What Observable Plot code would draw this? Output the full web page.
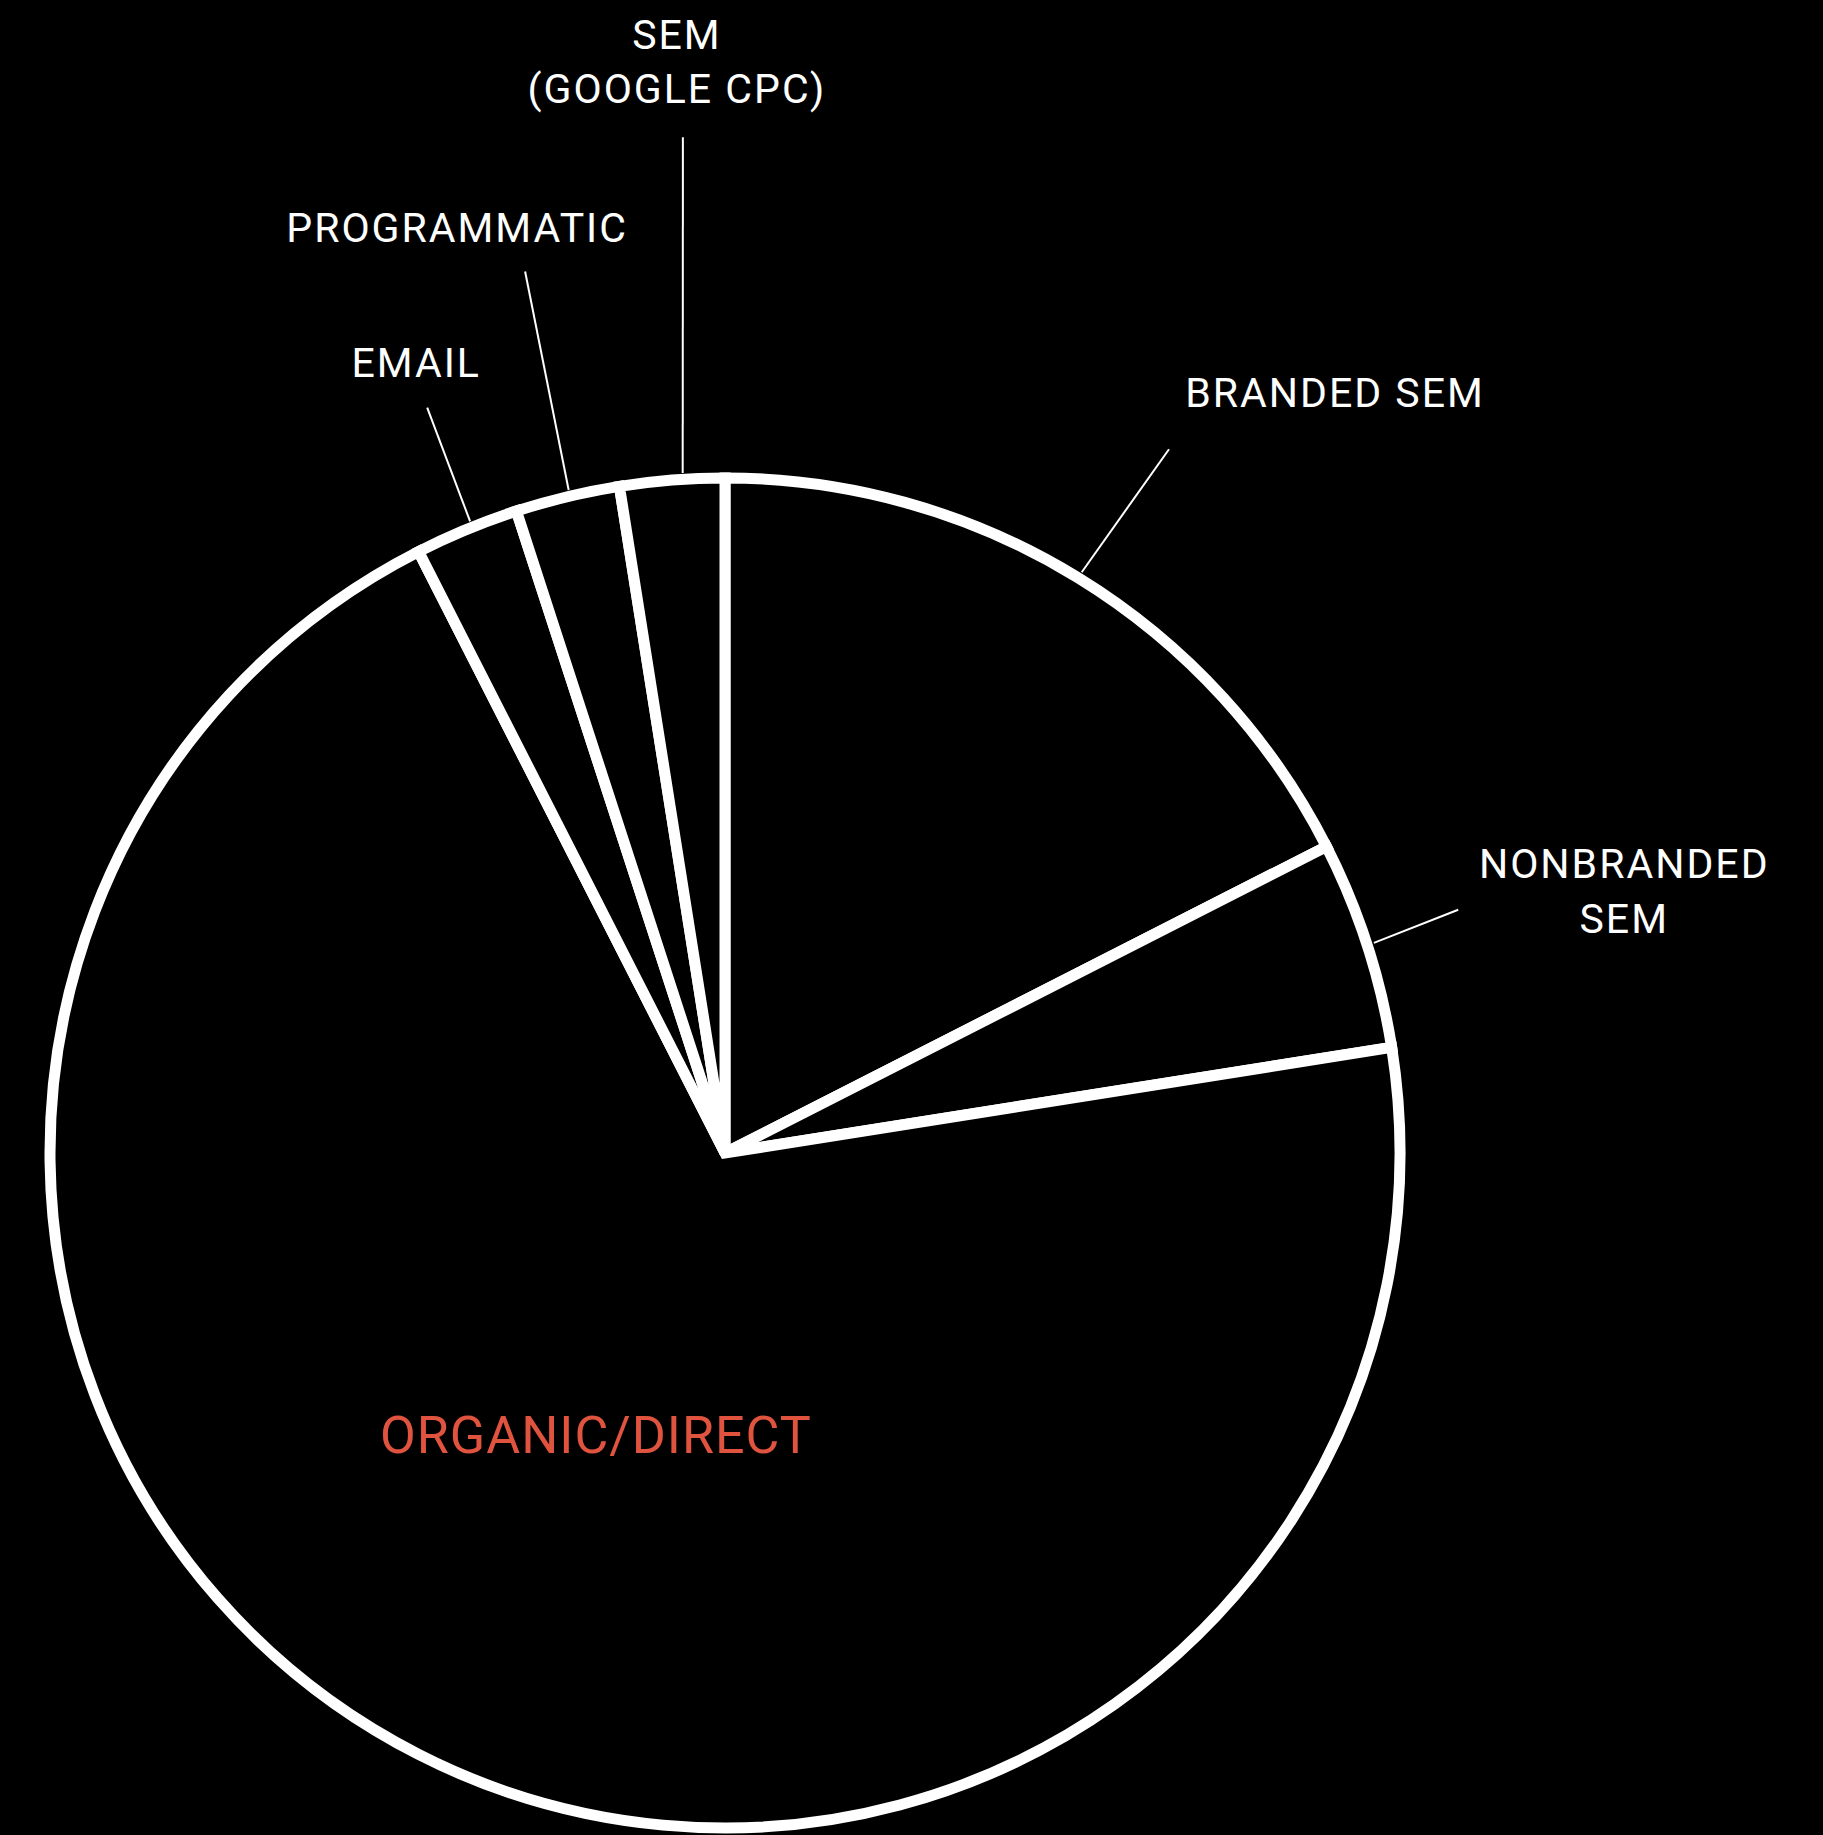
<!DOCTYPE html>
<html>
<head>
<meta charset="utf-8">
<script src="https://cdn.jsdelivr.net/npm/d3@7"></script>
<script src="https://cdn.jsdelivr.net/npm/@observablehq/plot@0.6"></script>
<style>
  html, body { margin: 0; padding: 0; background: #000; }
  #chart svg { display: block; }
  #chart svg text { letter-spacing: 2px; }
  #chart svg .organic text { letter-spacing: 1px; }
</style>
</head>
<body>
<div id="chart"></div>
<script>
// ---- data ----
const channels = ["BRANDED SEM", "NONBRANDED SEM", "ORGANIC/DIRECT", "EMAIL", "PROGRAMMATIC", "SEM (GOOGLE CPC)"];
const labelTexts = ["BRANDED SEM", "NONBRANDED\nSEM", "ORGANIC/DIRECT", "EMAIL", "PROGRAMMATIC", "SEM\n(GOOGLE CPC)"];
const shares = [17.5, 5, 70, 2.5, 2.5, 2.5];

// ---- layout (not data) ----
const leaderStartOffsetDeg = [0, 0, 0, 0.5, 0.2, 0.9];
const leaderEndOffsetDeg   = [0.7, -0.4, 0, 0.7, 0.7, 2.1];
const leaderLength         = [1.233, 1.144, null, 1.19, 1.34, 1.507];
const labelDx              = [166, 166, 19, -11, -68, -6];
const labelDy              = [-42, 23, 8, -31, -29, -34];
const organicLabelRadius   = 0.485;

const W = 1823, H = 1835;
const rows = channels.map((c, i) => ({channel: c, label: labelTexts[i], share: shares[i], i}));
const arcs = d3.pie().sort(null).value(d => d.share).startAngle(0).endAngle(2 * Math.PI)(rows);
const rad = deg => deg * Math.PI / 180;
const polar = (a, k) => ({x: k * Math.sin(a), y: k * Math.cos(a)});

const leaders = arcs.filter(a => leaderLength[a.data.i] != null).map(a => {
  const mid = (a.startAngle + a.endAngle) / 2;
  const i = a.data.i;
  const s = polar(mid + rad(leaderStartOffsetDeg[i]), 1.01);
  const e = polar(mid + rad(leaderEndOffsetDeg[i]), leaderLength[i]);
  return {i, x1: s.x, y1: s.y, x2: e.x, y2: e.y, label: a.data.label};
});

function pieMark(index, scales, values, dimensions) {
  let cx, cy, r;
  if (scales && scales.x && scales.y) {
    cx = scales.x(0); cy = scales.y(0); r = scales.x(1) - cx;
  } else {
    const {width, height, marginLeft, marginRight, marginTop, marginBottom} = dimensions;
    cx = (marginLeft + width - marginRight) / 2;
    cy = (marginTop + height - marginBottom) / 2;
    r = (width - marginRight - marginLeft) / 2;
  }
  const arcGen = d3.arc().innerRadius(0).outerRadius(r);
  const g = d3.create("svg:g").attr("transform", `translate(${cx},${cy})`);
  g.selectAll("path").data(arcs).join("path")
    .attr("d", arcGen)
    .attr("fill", "#000")
    .attr("stroke", "#fff")
    .attr("stroke-width", 11)
    .attr("stroke-linejoin", "miter");
  return g.node();
}

const textMarks = [];
for (const l of leaders) {
  textMarks.push(Plot.text([l], {
    x: "x2", y: "y2", text: "label",
    dx: labelDx[l.i], dy: labelDy[l.i],
    fill: "#fff", fontSize: 41, fontFamily: "Roboto",
    textAnchor: "middle", lineAnchor: "bottom", lineHeight: 1.33
  }));
}
const organic = arcs[2];
const om = (organic.startAngle + organic.endAngle) / 2;
const op = polar(om, organicLabelRadius);
textMarks.push(Plot.text([{x: op.x, y: op.y, label: organic.data.label}], {
  x: "x", y: "y", text: "label",
  dx: labelDx[2], dy: labelDy[2],
  fill: "#e0533f", fontSize: 52, fontFamily: "Roboto",
  textAnchor: "middle", lineAnchor: "bottom", className: "organic"
}));

const plot = Plot.plot({
  width: W,
  height: H,
  marginLeft: 50,
  marginRight: 423,
  marginTop: 478,
  marginBottom: 7,
  style: {background: "#000", color: "#fff", fontFamily: "Roboto"},
  x: {domain: [-1, 1], axis: null},
  y: {domain: [-1, 1], axis: null},
  marks: [
    Plot.link(leaders, {x1: "x1", y1: "y1", x2: "x2", y2: "y2", stroke: "#fff", strokeWidth: 2}),
    pieMark,
    ...textMarks
  ]
});
document.getElementById("chart").appendChild(plot);
</script>
</body>
</html>
